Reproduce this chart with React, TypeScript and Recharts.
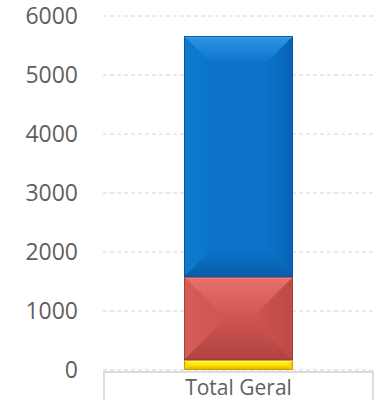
import React from "react";
import { BarChart, Bar, XAxis, YAxis, CartesianGrid } from "recharts";

const categories = ["Total Geral"];
const amarelo = [170];
const vermelho = [1410];
const azul = [4080];
const yTicks = [0, 1000, 2000, 3000, 4000, 5000, 6000];

const data = categories.map((c, i) => ({
  name: c,
  amarelo: amarelo[i],
  vermelho: vermelho[i],
  azul: azul[i],
}));

type Pal = { base: string; top: string; left: string; right: string; bottom: string; edge: string; hi: string; depth: number };

const palettes: Record<string, Pal> = {
  amarelo: { base: "#ffe600", top: "#fff04a", left: "#f2cc00", right: "#e8bd00", bottom: "#d9a800", edge: "#d29f00", hi: "#fff27a", depth: 100 },
  vermelho: { base: "#cf5552", top: "#e6716d", left: "#d55c58", right: "#bd4a46", bottom: "#b0433f", edge: "#a23f3b", hi: "#f08783", depth: 100 },
  azul: { base: "#0b74c9", top: "#2e95e6", left: "#0f7cd0", right: "#0664b2", bottom: "#065fa9", edge: "#0558a0", hi: "#3ba8f6", depth: 28 },
};

const bevel = (key: string) => (props: any) => {
  const { x, y, width: w, height: h } = props;
  if (!w || !h) return <g />;
  const p = palettes[key];
  const d = Math.min(p.depth, w / 2, h / 2);
  const pts = (arr: number[][]) => arr.map((a) => a.join(",")).join(" ");
  const id = `g-${key}`;
  return (
    <g>
      <defs>
        <linearGradient id={`${id}-t`} x1="0" y1="0" x2="0" y2="1">
          <stop offset="0" stopColor={p.top} />
          <stop offset="1" stopColor={p.base} />
        </linearGradient>
        <linearGradient id={`${id}-b`} x1="0" y1="0" x2="0" y2="1">
          <stop offset="0" stopColor={p.base} />
          <stop offset="1" stopColor={p.bottom} />
        </linearGradient>
        <linearGradient id={`${id}-l`} x1="0" y1="0" x2="1" y2="0">
          <stop offset="0" stopColor={p.left} />
          <stop offset="1" stopColor={p.base} />
        </linearGradient>
        <linearGradient id={`${id}-r`} x1="0" y1="0" x2="1" y2="0">
          <stop offset="0" stopColor={p.base} />
          <stop offset="1" stopColor={p.right} />
        </linearGradient>
      </defs>
      <rect x={x} y={y} width={w} height={h} fill={p.base} />
      <polygon points={pts([[x, y], [x + d, y + d], [x + d, y + h - d], [x, y + h]])} fill={`url(#${id}-l)`} />
      <polygon points={pts([[x + w, y], [x + w - d, y + d], [x + w - d, y + h - d], [x + w, y + h]])} fill={`url(#${id}-r)`} />
      <polygon points={pts([[x, y], [x + w, y], [x + w - d, y + d], [x + d, y + d]])} fill={`url(#${id}-t)`} />
      <polygon points={pts([[x, y + h], [x + w, y + h], [x + w - d, y + h - d], [x + d, y + h - d]])} fill={`url(#${id}-b)`} />
      <line x1={x + 1} y1={y + 1} x2={x + w - 1} y2={y + 1} stroke={p.hi} strokeWidth={2} />
      <rect x={x + 0.5} y={y + 0.5} width={w - 1} height={h - 1} fill="none" stroke={p.edge} strokeWidth={1} />
    </g>
  );
};

const CategoryTick = (props: any) => {
  const { x, y, width, payload } = props;
  const left = x - width / 2;
  return (
    <g>
      <path
        d={`M${left + 1},${y + 40} L${left + 1},${y + 2} L${left + width - 1},${y + 2} L${left + width - 1},${y + 40}`}
        fill="none"
        stroke="#dcdcdc"
        strokeWidth={2}
      />
      <text x={x} y={y + 25} textAnchor="middle" fill="#5f5f5f" fontSize={21} fontFamily="'Open Sans', sans-serif">
        {payload.value}
      </text>
    </g>
  );
};

export default function App() {
  return (
    <div style={{ position: "absolute", left: 0, top: 0, width: 376, height: 400, background: "#fff" }}>
      <BarChart width={376} height={400} data={data} margin={{ top: 16, right: 2, bottom: 0, left: 0 }} barSize={109}>
        <CartesianGrid vertical={false} stroke="#d4d4d4" strokeDasharray="4 3" />
        <XAxis
          dataKey="name"
          axisLine={false}
          tickLine={false}
          tickSize={0}
          tickMargin={0}
          height={30}
          tick={<CategoryTick />}
          interval={0}
        />
        <YAxis
          width={103}
          domain={[0, 6000]}
          ticks={yTicks}
          axisLine={false}
          tickLine={false}
          tickSize={0}
          tickMargin={25}
          tick={{ fill: "#5f5f5f", fontSize: 23, fontFamily: "'Open Sans', sans-serif" }}
        />
        <Bar dataKey="amarelo" stackId="a" isAnimationActive={false} shape={bevel("amarelo")} />
        <Bar dataKey="vermelho" stackId="a" isAnimationActive={false} shape={bevel("vermelho")} />
        <Bar dataKey="azul" stackId="a" isAnimationActive={false} shape={bevel("azul")} />
      </BarChart>
    </div>
  );
}
